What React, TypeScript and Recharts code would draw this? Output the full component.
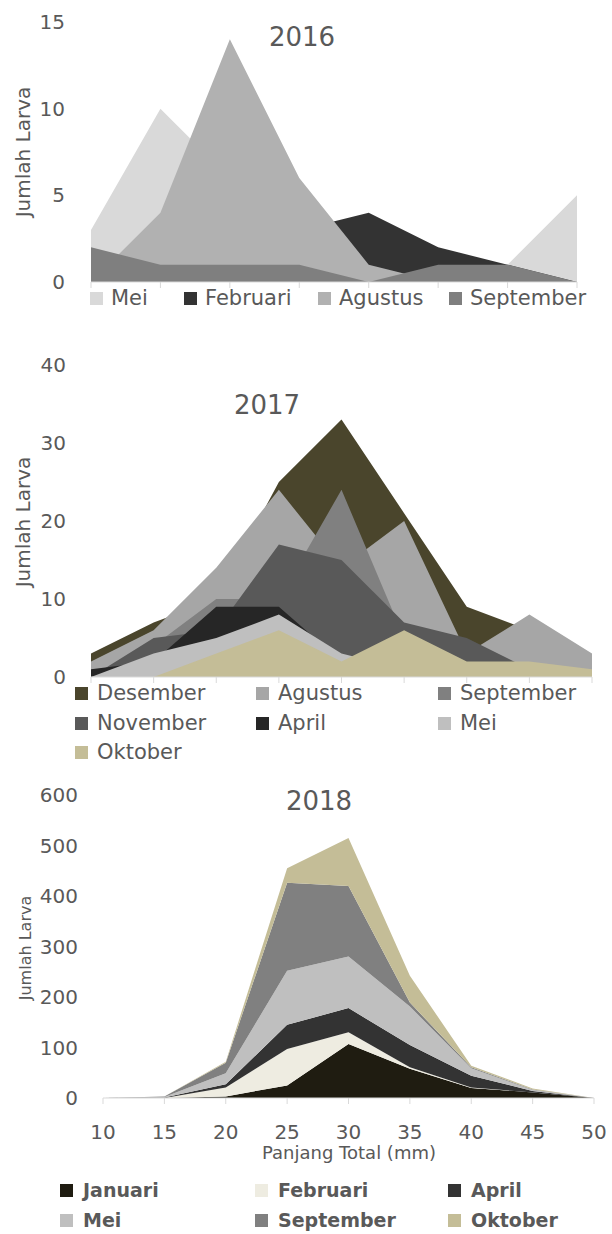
import React from 'react';
import { AreaChart, Area, XAxis, YAxis } from 'recharts';

const FONT = '"DejaVu Sans", sans-serif';
const TEXT = '#595959';
const AXIS = '#d9d9d9';

// ---------- 2016 ----------
const cat2016 = ['10', '15', '20', '25', '30', '35', '40', '45'];
const mei2016 = [3, 10, 6, 4, 2, 0, 1, 5];
const februari2016 = [0, 0, 1, 3, 4, 2, 1, 0];
const agustus2016 = [0, 4, 14, 6, 1, 0, 0, 0];
const september2016 = [2, 1, 1, 1, 0, 1, 1, 0];
const ticks2016 = [0, 5, 10, 15];

// ---------- 2017 ----------
const cat2017 = ['10', '15', '20', '25', '30', '35', '40', '45', '50'];
const desember2017 = [3, 7, 10, 25, 33, 21, 9, 6, 2];
const agustus2017 = [2, 6, 14, 24, 14, 20, 3, 8, 3];
const september2017 = [0, 4, 10, 10, 24, 5, 2, 1, 0];
const november2017 = [0, 5, 6, 17, 15, 7, 5, 1, 0];
const april2017 = [1, 2, 9, 9, 2, 0, 0, 0, 0];
const mei2017 = [0, 3, 5, 8, 3, 1, 1, 1, 0];
const oktober2017 = [0, 0, 3, 6, 2, 6, 2, 2, 1];
const ticks2017 = [0, 10, 20, 30, 40];

// ---------- 2018 ----------
const cat2018 = ['10', '15', '20', '25', '30', '35', '40', '45', '50'];
const januari2018 = [0, 0, 3, 25, 107, 58, 20, 11, 0];
const februari2018 = [0, 0, 18, 72, 23, 3, 1, 0, 0];
const april2018 = [0, 1, 6, 48, 48, 44, 23, 3, 0];
const mei2018 = [0, 1, 22, 107, 102, 76, 15, 2, 0];
const september2018 = [0, 1, 21, 174, 140, 8, 2, 1, 0];
const oktober2018 = [0, 0, 2, 29, 95, 53, 3, 2, 0];
const ticks2018 = [0, 100, 200, 300, 400, 500, 600];

type Series = { name: string; values: number[]; color: string };

const series2016: Series[] = [
  { name: 'Mei', values: mei2016, color: '#d9d9d9' },
  { name: 'Februari', values: februari2016, color: '#333333' },
  { name: 'Agustus', values: agustus2016, color: '#b1b1b1' },
  { name: 'September', values: september2016, color: '#7f7f7f' },
];

const series2017: Series[] = [
  { name: 'Desember', values: desember2017, color: '#4a452c' },
  { name: 'Agustus', values: agustus2017, color: '#a6a6a6' },
  { name: 'September', values: september2017, color: '#808080' },
  { name: 'November', values: november2017, color: '#595959' },
  { name: 'April', values: april2017, color: '#262626' },
  { name: 'Mei', values: mei2017, color: '#bfbfbf' },
  { name: 'Oktober', values: oktober2017, color: '#c4bd97' },
];

const series2018: Series[] = [
  { name: 'Januari', values: januari2018, color: '#1f1c11' },
  { name: 'Februari', values: februari2018, color: '#eeece1' },
  { name: 'April', values: april2018, color: '#333333' },
  { name: 'Mei', values: mei2018, color: '#bfbfbf' },
  { name: 'September', values: september2018, color: '#808080' },
  { name: 'Oktober', values: oktober2018, color: '#c4bd97' },
];

function buildTable(cats: string[], series: Series[]) {
  return cats.map((c, i) => {
    const row: Record<string, string | number> = { cat: c };
    series.forEach((s) => {
      row[s.name] = s.values[i];
    });
    return row;
  });
}

const HiddenTick = () => <g />;

type PanelProps = {
  top: number;
  height: number;
  margin: { top: number; right: number; bottom: number; left: number };
  cats: string[];
  series: Series[];
  stacked?: boolean;
  yTicks: number[];
  yWidth: number;
  yTickMargin: number;
  showXLabels?: boolean;
  xHeight: number;
};

function Panel(p: PanelProps) {
  const data = buildTable(p.cats, p.series);
  const yMax = p.yTicks[p.yTicks.length - 1];
  return (
    <div style={{ position: 'absolute', left: 0, top: p.top, width: 612, height: p.height }}>
      <AreaChart width={612} height={p.height} data={data} margin={p.margin}>
        <XAxis
          dataKey="cat"
          type="category"
          scale="point"
          padding={{ left: 0, right: 0 }}
          interval={0}
          axisLine={{ stroke: AXIS, strokeWidth: 1 }}
          tickLine={{ stroke: AXIS, strokeWidth: 1 }}
          tickSize={6}
          tickMargin={p.showXLabels ? 21 : 0}
          height={p.xHeight}
          tick={p.showXLabels ? { fill: TEXT, fontSize: 20, fontFamily: FONT } : HiddenTick}
        />
        <YAxis
          type="number"
          domain={[0, yMax]}
          ticks={p.yTicks}
          interval={0}
          width={p.yWidth}
          axisLine={false}
          tickLine={false}
          tickSize={0}
          tickMargin={p.yTickMargin}
          tick={{ fill: TEXT, fontSize: 20, fontFamily: FONT }}
        />
        {p.series.map((s) => (
          <Area
            key={s.name}
            type="linear"
            dataKey={s.name}
            name={s.name}
            stackId={p.stacked ? 'total' : undefined}
            fill={s.color}
            fillOpacity={1}
            stroke="none"
            dot={false}
            activeDot={false}
            isAnimationActive={false}
          />
        ))}
      </AreaChart>
    </div>
  );
}

function Label(props: {
  text: string;
  cx: number;
  cy: number;
  size: number;
  rotate?: boolean;
  bold?: boolean;
}) {
  const lh = Math.round(props.size * 1.2);
  return (
    <div
      style={{
        position: 'absolute',
        left: props.cx,
        top: props.cy,
        transform: props.rotate ? 'translate(-50%, -50%) rotate(-90deg)' : 'translate(-50%, -50%)',
        fontFamily: FONT,
        fontSize: props.size,
        lineHeight: `${lh}px`,
        color: TEXT,
        whiteSpace: 'nowrap',
        fontWeight: props.bold ? 'bold' : 'normal',
      }}
    >
      {props.text}
    </div>
  );
}

function LegendBlock(props: {
  series: Series[];
  cols: number[];
  rows: number[];
  size: number;
  bold?: boolean;
  gap: number;
}) {
  const ncol = props.cols.length;
  return (
    <>
      {props.series.map((s, i) => {
        const x = props.cols[i % ncol];
        const y = props.rows[Math.floor(i / ncol)];
        const lh = Math.round(props.size * 1.2);
        return (
          <React.Fragment key={s.name + i}>
            <div
              style={{
                position: 'absolute',
                left: x - props.gap,
                top: y - 6.5,
                width: 13,
                height: 13,
                background: s.color,
              }}
            />
            <div
              style={{
                position: 'absolute',
                left: x,
                top: y - lh / 2,
                fontFamily: FONT,
                fontSize: props.size,
                lineHeight: `${lh}px`,
                color: TEXT,
                whiteSpace: 'nowrap',
                fontWeight: props.bold ? 'bold' : 'normal',
              }}
            >
              {s.name}
            </div>
          </React.Fragment>
        );
      })}
    </>
  );
}

export default function App() {
  return (
    <div
      style={{
        position: 'absolute',
        left: 0,
        top: 0,
        width: 612,
        height: 1234,
        background: '#ffffff',
        overflow: 'hidden',
      }}
    >
      {/* 2016 */}
      <Panel
        top={0}
        height={300}
        margin={{ top: 22, right: 35, bottom: 10, left: 0 }}
        cats={cat2016}
        series={series2016}
        yTicks={ticks2016}
        yWidth={91}
        yTickMargin={26}
        xHeight={8}
      />
      <Label text="2016" cx={302} cy={37} size={26} />
      <Label text="Jumlah Larva" cx={23} cy={152} size={20} rotate />
      <LegendBlock series={series2016} cols={[111, 205, 339, 470]} rows={[298]} size={21} gap={21} />

      {/* 2017 */}
      <Panel
        top={340}
        height={350}
        margin={{ top: 25, right: 20, bottom: 5, left: 0 }}
        cats={cat2017}
        series={series2017}
        yTicks={ticks2017}
        yWidth={91}
        yTickMargin={25}
        xHeight={8}
      />
      <Label text="2017" cx={267} cy={405} size={26} />
      <Label text="Jumlah Larva" cx={23} cy={522} size={20} rotate />
      <LegendBlock series={series2017} cols={[97, 278, 460]} rows={[693, 723, 752]} size={21} gap={22} />

      {/* 2018 */}
      <Panel
        top={770}
        height={380}
        margin={{ top: 25, right: 18, bottom: 12, left: 0 }}
        cats={cat2018}
        series={series2018}
        stacked
        yTicks={ticks2018}
        yWidth={103}
        yTickMargin={25}
        showXLabels
        xHeight={40}
      />
      <Label text="2018" cx={319} cy={801} size={26} />
      <Label text="Jumlah Larva" cx={25} cy={948} size={16} rotate />
      <Label text="Panjang Total (mm)" cx={349} cy={1153} size={18} />
      <LegendBlock series={series2018} cols={[83, 278, 471]} rows={[1190, 1220]} size={19} bold gap={23} />
    </div>
  );
}
